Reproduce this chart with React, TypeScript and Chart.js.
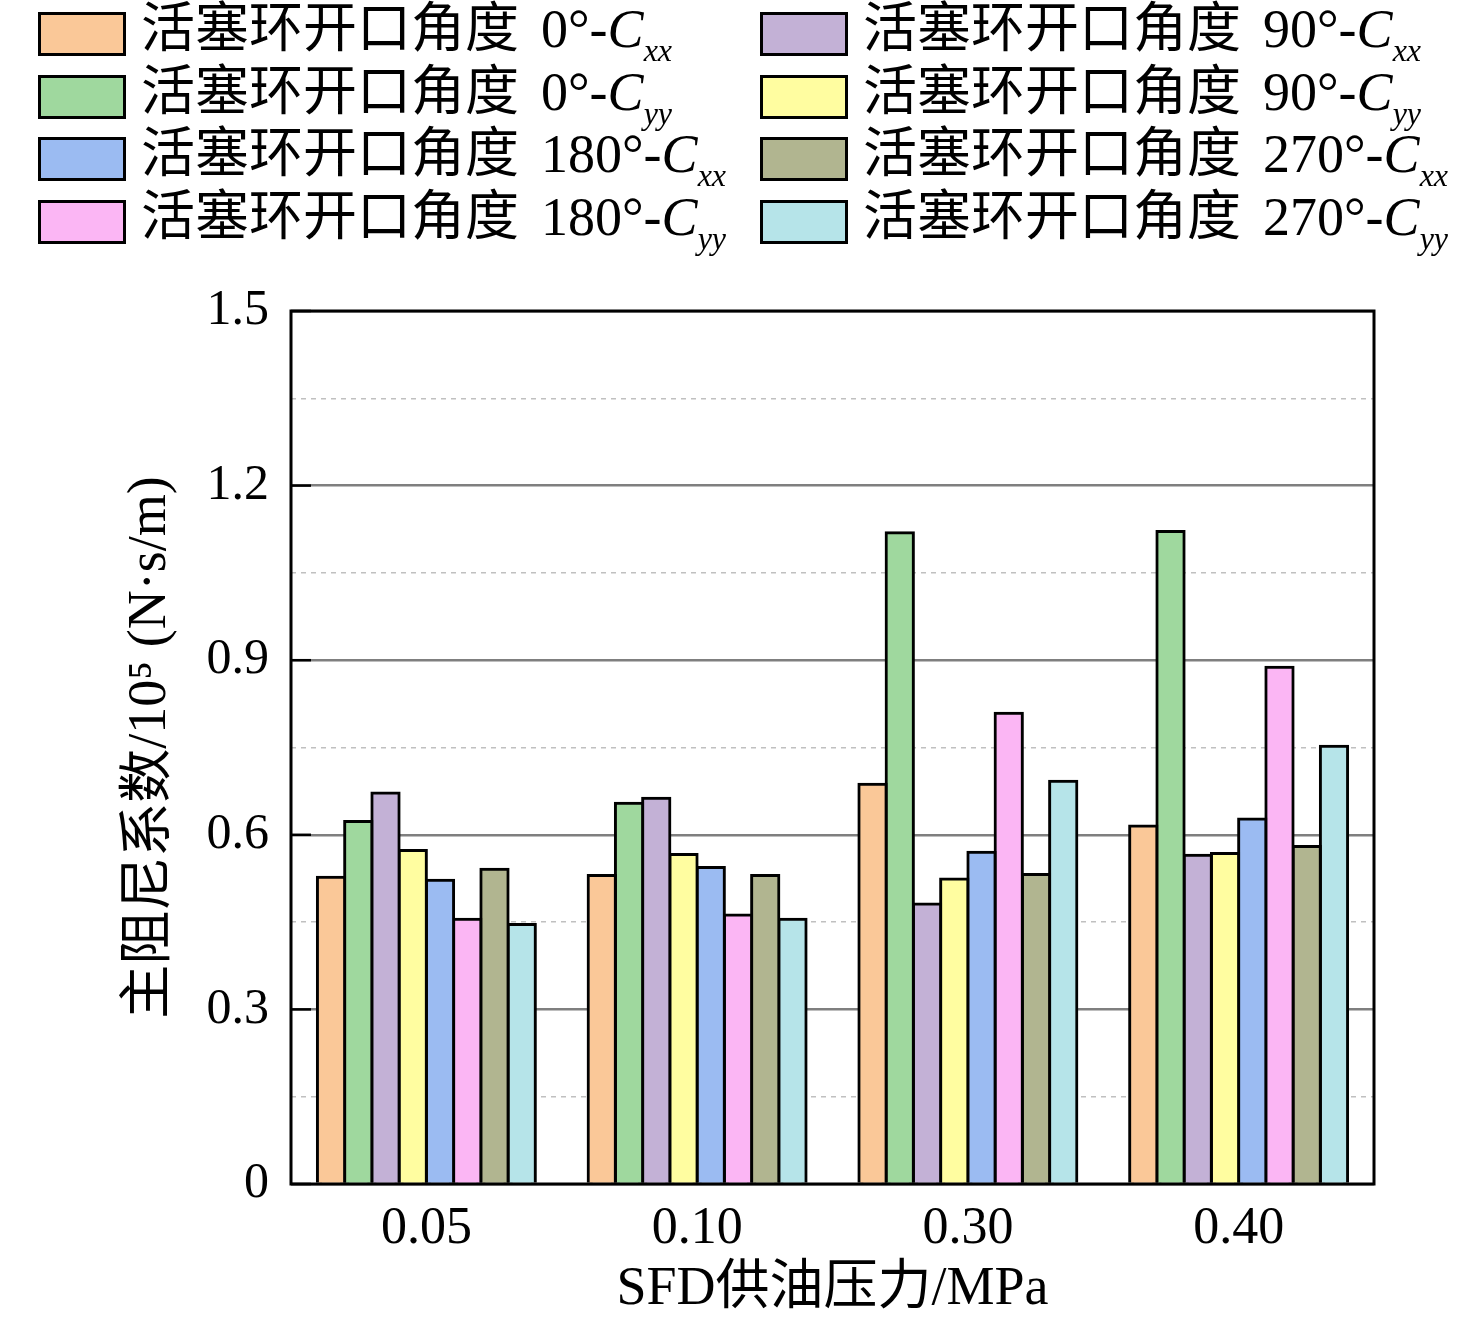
import { useEffect, useRef } from "react";
import { Chart, registerables } from "chart.js";

Chart.register(...registerables);

// SFD supply pressure (MPa)
const pressures = ["0.05", "0.10", "0.30", "0.40"];

// principal damping coefficient /10^5 N·s/m, per ring gap angle
const cxx0 = [0.527, 0.53, 0.687, 0.615];
const cyy0 = [0.623, 0.654, 1.119, 1.121];
const cxx90 = [0.672, 0.663, 0.481, 0.565];
const cyy90 = [0.573, 0.566, 0.524, 0.568];
const cxx180 = [0.522, 0.544, 0.57, 0.627];
const cyy180 = [0.455, 0.462, 0.809, 0.888];
const cxx270 = [0.541, 0.53, 0.532, 0.58];
const cyy270 = [0.446, 0.455, 0.692, 0.752];

const angles = ["0°", "0°", "90°", "90°", "180°", "180°", "270°", "270°"];
const comps = ["xx", "yy", "xx", "yy", "xx", "yy", "xx", "yy"];
const seriesData = [cxx0, cyy0, cxx90, cyy90, cxx180, cyy180, cxx270, cyy270];
const colors = [
  "#FAC898",
  "#9FD89E",
  "#C3B1D6",
  "#FFFDA0",
  "#9BBBF2",
  "#FBB6F4",
  "#B1B590",
  "#B6E4E9",
];

const yMax = 1.5;
const minorStep = 0.15;

const SERIF = '"Liberation Serif", "Times New Roman", "Noto Sans CJK SC", serif';

// left column holds 0° and 180°, right column 90° and 270°
const legendColumns = [
  [0, 1, 4, 5],
  [2, 3, 6, 7],
];

const framePlugin = {
  id: "frame",
  afterDraw(chart: any) {
    const { ctx, chartArea } = chart;
    const y = chart.scales.y;
    ctx.save();
    ctx.strokeStyle = "#000";
    ctx.lineWidth = 2.5;
    // inward ticks on the left at the major values
    y.ticks.forEach((t: any, i: number) => {
      if (i % 2 !== 0) return;
      const py = y.getPixelForValue(t.value);
      ctx.beginPath();
      ctx.moveTo(chartArea.left, py);
      ctx.lineTo(chartArea.left + 20, py);
      ctx.stroke();
    });
    ctx.lineWidth = 3;
    ctx.strokeRect(
      chartArea.left,
      chartArea.top,
      chartArea.right - chartArea.left,
      chartArea.bottom - chartArea.top
    );
    ctx.restore();
  },
};

function Legend() {
  const rowTop = [12, 75, 137, 200];
  const colLeft = [38, 760];
  return (
    <>
      {legendColumns.map((col, c) =>
        col.map((idx, r) => (
          <div
            key={idx}
            style={{
              position: "absolute",
              left: colLeft[c],
              top: rowTop[r],
              height: 44,
              display: "flex",
              alignItems: "center",
              whiteSpace: "nowrap",
            }}
          >
            <div
              style={{
                width: 88,
                height: 44,
                boxSizing: "border-box",
                border: "3px solid #000",
                background: colors[idx],
                marginRight: 15,
              }}
            />
            <span
              style={{
                fontFamily: SERIF,
                fontSize: 54,
                lineHeight: 1,
                color: "#000",
              }}
            >
              活塞环开口角度
              <span style={{ marginLeft: 22 }}>{angles[idx]}-</span>
              <i>C</i>
              <sub style={{ fontSize: 32, fontStyle: "italic", verticalAlign: -14 }}>
                {comps[idx]}
              </sub>
            </span>
          </div>
        ))
      )}
    </>
  );
}

export default function App() {
  const canvasRef = useRef<HTMLCanvasElement | null>(null);
  const chartInstance = useRef<Chart | null>(null);

  useEffect(() => {
    if (!canvasRef.current) return;
    if (chartInstance.current) chartInstance.current.destroy();

    chartInstance.current = new Chart(canvasRef.current, {
      type: "bar",
      data: {
        labels: pressures,
        datasets: seriesData.map((d, i) => ({
          label: `活塞环开口角度 ${angles[i]}-C${comps[i]}`,
          data: d,
          backgroundColor: colors[i],
          borderColor: "#000",
          borderWidth: 3,
          inflateAmount: 1.5,
          categoryPercentage: 0.805,
          barPercentage: 1,
        })),
      },
      options: {
        responsive: false,
        animation: false,
        devicePixelRatio: 1,
        layout: { padding: { top: 311, right: 102, bottom: 0, left: 0 } },
        plugins: {
          legend: { display: false },
          tooltip: { enabled: false },
        },
        scales: {
          x: {
            grid: { display: false, drawTicks: false },
            border: { display: false },
            ticks: {
              color: "#000",
              padding: 14,
              font: { family: SERIF, size: 52 },
            },
            title: {
              display: true,
              text: "SFD供油压力/MPa",
              color: "#000",
              font: { family: SERIF, size: 54 },
              padding: { top: 0, bottom: 4 },
            },
            afterFit(scale: any) {
              scale.height = 142;
            },
          },
          y: {
            min: 0,
            max: yMax,
            ticks: {
              stepSize: minorStep,
              color: "#000",
              padding: 22,
              font: { family: SERIF, size: 50 },
              callback: (value: any, index: number) =>
                index % 2 === 0 ? (value === 0 ? "0" : Number(value).toFixed(1)) : "",
            },
            grid: {
              drawTicks: false,
              color: (ctx: any) => (ctx.index % 2 === 0 ? "#7f7f7f" : "#c0c0c0"),
              lineWidth: (ctx: any) => (ctx.index % 2 === 0 ? 2.5 : 1.5),
            },
            border: {
              display: false,
              dash: (ctx: any) =>
                ctx.type === "tick" && ctx.index % 2 === 1 ? [5, 5] : [],
            },
            title: {
              display: true,
              text: "主阻尼系数/10⁵ (N·s/m)",
              color: "#000",
              font: { family: SERIF, size: 54 },
              padding: { top: 118, bottom: 0 },
            },
            afterFit(scale: any) {
              scale.width = 291;
            },
          },
        },
      },
      plugins: [framePlugin],
    });

    return () => {
      chartInstance.current?.destroy();
      chartInstance.current = null;
    };
  }, []);

  return (
    <div
      style={{
        position: "absolute",
        left: 0,
        top: 0,
        width: 1476,
        height: 1326,
        background: "#fff",
      }}
    >
      <canvas
        ref={canvasRef}
        width={1476}
        height={1326}
        style={{ position: "absolute", left: 0, top: 0, display: "block" }}
      />
      <Legend />
    </div>
  );
}
